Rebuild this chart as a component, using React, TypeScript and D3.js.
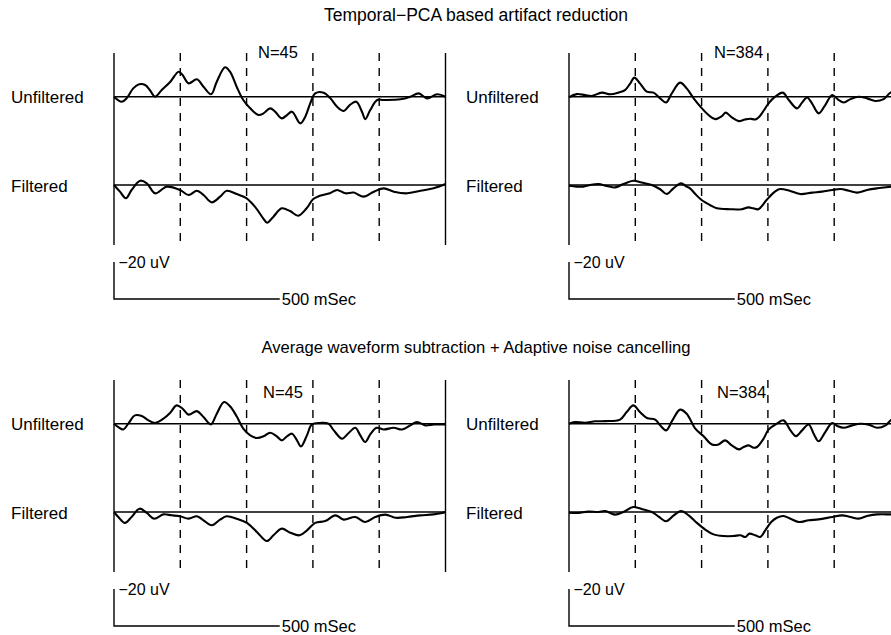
import React, { useEffect } from "react";
import * as d3 from "d3";

// time in ms (0..1000 across a panel), amplitude in uV (negative is drawn upward)
const sections = ["Temporal\u2212PCA based artifact reduction", "Average waveform subtraction + Adaptive noise cancelling"];
const groups = ["N=45", "N=384"];
const traceLabels = ["Unfiltered", "Filtered"];
const gridTimes = [200, 400, 600, 800];

const pca45Unf = [[0,0],[23,2.7],[38,0.9],[58,-4.5],[76,-6.7],[94,-6.3],[108,-3.6],[124,0],[144,-3.6],[170,-8.1],[195,-13.5],[207,-11.7],[225,-7.2],[250,-9.4],[270,-5.4],[293,-1.3],[310,-8.1],[335,-15.9],[350,-13.5],[370,-5.4],[390,1.8],[411,6.3],[436,9.9],[451,9.0],[471,6.3],[486,8.1],[506,11.7],[522,9.9],[537,8.1],[562,14.4],[577,10.8],[592,3.6],[607,-1.8],[632,-2.2],[653,0.9],[673,5.4],[693,7.7],[711,4.5],[731,2.7],[748,8.1],[758,12.1],[773,7.2],[794,1.8],[814,1.8],[864,1.4],[894,0],[919,-1.8],[944,0.9],[975,-1.3],[1000,0]];
const pca45Filt = [[0,0],[18,3.6],[36,7.2],[53,2.7],[79,-2.3],[99,-0.9],[124,4.5],[149,1.8],[159,0.9],[199,2.7],[225,5.4],[250,3.1],[270,5.4],[295,9.4],[320,6.3],[340,3.1],[370,4.9],[398,7.0],[425,11.7],[450,18.0],[462,20.4],[481,17.1],[506,12.6],[531,14.1],[556,16.6],[581,12.6],[601,7.6],[621,5.8],[651,4.5],[673,2.7],[698,4.5],[723,4.1],[753,6.3],[784,3.6],[814,1.8],[844,3.6],[884,4.5],[924,3.1],[964,1.8],[1000,-0.5]];
const pca384Unf = [[0,0.4],[23,-1.4],[48,-0.9],[68,-0.4],[99,-2.2],[124,-1.3],[149,-2.2],[169,-3.6],[185,-7.2],[197,-10.3],[214,-7.2],[235,-2.7],[255,-2.2],[275,0.9],[293,3.1],[310,-1.8],[335,-7.6],[355,-4.5],[376,0.9],[401,6.3],[421,9.9],[441,12.1],[461,10.5],[473,8.6],[491,11.2],[512,13.2],[531,12.3],[547,11.9],[562,12.3],[574,10.8],[587,7.6],[602,3.6],[622,0],[645,-2.2],[663,1.8],[688,6.3],[703,3.2],[718,0.4],[733,3.6],[753,9.0],[773,4.5],[794,-0.9],[811,1.4],[829,3.1],[849,1.3],[874,0],[899,0.9],[924,2.3],[949,1.3],[970,-2.2],[1000,-4.0]];
const pca384Filt = [[0,0.4],[23,0.9],[43,0.9],[64,0],[89,-0.5],[114,0.5],[139,1.3],[164,-0.5],[194,-2.3],[219,-1.3],[250,0],[275,2.3],[295,4.9],[315,1.8],[338,-0.9],[355,0.9],[365,1.8],[381,4.9],[400,8.1],[425,10.8],[446,12.6],[486,13.1],[521,13.1],[541,12.1],[556,12.6],[571,13.1],[596,8.1],[621,3.6],[636,2.2],[667,3.2],[698,4.9],[733,4.1],[763,3.6],[794,2.7],[819,2.2],[844,3.1],[869,4.1],[899,2.7],[930,1.8],[973,0.9],[1000,0.5]];

const anc45Unf = [[0,0],[13,1.8],[28,3.1],[43,0],[63,-4.5],[84,-4.1],[104,-1.8],[124,-0.4],[149,-2.7],[169,-5.8],[189,-9.9],[207,-8.1],[225,-4.9],[250,-6.8],[270,-3.6],[292,0.4],[310,-5.4],[332,-11.7],[350,-9.4],[370,-4.0],[390,2.7],[411,6.3],[431,7.7],[451,6.8],[471,4.9],[491,6.8],[506,9.0],[522,6.8],[537,5.4],[552,9.0],[564,12.3],[582,6.3],[597,0.4],[622,-0.4],[647,0],[663,3.6],[688,8.1],[708,5.0],[728,2.2],[743,6.3],[758,9.9],[773,5.8],[792,2.2],[814,3.1],[844,2.2],[869,3.1],[894,0.9],[914,-0.9],[939,0.9],[965,0.4],[1000,0.4]];
const anc45Filt = [[0,0],[13,2.7],[33,5.9],[53,2.7],[77,-1.8],[99,0.5],[121,3.6],[149,1.3],[174,1.8],[199,2.3],[225,3.6],[250,2.3],[270,4.5],[295,7.2],[320,4.1],[340,2.3],[370,3.6],[401,5.9],[431,10.8],[461,15.7],[481,12.6],[506,9.0],[532,11.2],[560,12.6],[582,9.9],[607,5.9],[637,4.9],[668,1.8],[693,4.1],[728,2.7],[758,5.4],[788,2.7],[819,1.4],[849,3.1],[884,2.7],[924,1.8],[964,1.3],[1000,0]];
const anc384Unf = [[0,0],[18,-0.9],[48,-0.5],[79,-1.3],[109,-1.4],[154,-2.2],[174,-6.3],[194,-9.9],[214,-6.3],[235,-3.1],[260,-2.2],[275,0.9],[293,3.6],[312,-1.8],[335,-7.6],[355,-5.4],[381,2.7],[406,6.8],[431,11.2],[451,11.2],[471,9.0],[491,11.7],[512,13.9],[527,12.6],[542,11.7],[557,13.0],[567,12.6],[587,8.1],[602,3.2],[627,0],[647,-1.8],[668,3.6],[685,6.7],[703,3.6],[723,0.4],[738,5.4],[753,9.5],[773,4.5],[794,-0.4],[811,1.4],[829,2.2],[854,0.9],[879,0],[904,0.5],[930,2.2],[955,0.9],[973,-2.2],[1000,-3.6]];
const anc384Filt = [[0,0.4],[28,0.5],[58,-0.2],[89,0],[109,-0.5],[139,1.4],[164,0],[194,-2.7],[225,-1.3],[250,0],[272,2.7],[293,5.0],[316,1.8],[338,-0.5],[361,1.8],[386,5.9],[411,9.5],[436,12.1],[466,13.0],[496,13.0],[517,12.6],[532,13.5],[544,11.7],[562,12.6],[577,13.5],[592,9.9],[610,5.4],[627,3.1],[647,2.2],[668,3.6],[693,5.4],[723,4.5],[753,4.0],[794,2.7],[824,1.8],[849,2.7],[874,3.6],[899,2.2],[930,1.3],[973,1.3],[1000,1.3]];

const traces = [
  [[pca45Unf, pca45Filt], [pca384Unf, pca384Filt]],
  [[anc45Unf, anc45Filt], [anc384Unf, anc384Filt]],
];

const FONT = "'Liberation Sans', Arial, Helvetica, sans-serif";
const rowOffset = [0, 327];
const panelLeft = [114, 569];
const panelWidth = 331.5;
const pxPerUv = 1.85;
const nLabelPos = [[[144, 58], [145, 58]], [[149, 398], [148, 398]]];
const titleSize = [17.5, 16.6];

const Panel = ({ row, col }) => {
  const dy = rowOffset[row];
  const x = d3.scaleLinear().domain([0, 1000]).range([panelLeft[col], panelLeft[col] + panelWidth]);
  const top = 53 + dy;
  const bottom = 245 + dy;
  const bases = [96.7 + dy, 185 + dy];
  const line = (base) => {
    const y = d3.scaleLinear().domain([-20, 20]).range([base - 20 * pxPerUv, base + 20 * pxPerUv]);
    return d3.line().x((d) => x(d[0])).y((d) => y(d[1])).curve(d3.curveCatmullRom.alpha(0.5));
  };
  const barY = d3.scaleLinear().domain([-20, 0]).range([299 + dy - 20 * pxPerUv, 299 + dy]);
  const [nx, ny] = nLabelPos[row][col];
  return (
    <g>
      <line x1={x(0)} x2={x(0)} y1={top} y2={bottom} stroke="#000" strokeWidth={1.4} />
      <line x1={x(1000)} x2={x(1000)} y1={top} y2={bottom} stroke="#000" strokeWidth={1.4} />
      {gridTimes.map((t) => (
        <line key={t} x1={x(t)} x2={x(t)} y1={top} y2={bottom} stroke="#000" strokeWidth={1.4} strokeDasharray="8,7" />
      ))}
      {bases.map((b, i) => (
        <g key={i}>
          <line x1={x(0)} x2={x(1000)} y1={b} y2={b} stroke="#000" strokeWidth={1.5} />
          <path d={line(b)(traces[row][col][i])} fill="none" stroke="#000" strokeWidth={2.1} strokeLinejoin="round" />
          <text x={panelLeft[col] - 103} y={b + 6.6} fontSize={17} fontFamily={FONT}>{traceLabels[i]}</text>
        </g>
      ))}
      <text x={panelLeft[col] + nx} y={ny} fontSize={16.5} fontFamily={FONT}>{groups[col]}</text>
      <path d={`M${x(0)},${barY(-20)}V${barY(0)}H${x(500)}`} fill="none" stroke="#000" strokeWidth={1.4} />
      <text x={x(0) + 4.5} y={barY(-20) + 6} fontSize={16} fontFamily={FONT}>{"\u221220 uV"}</text>
      <text x={x(500) + 2} y={barY(0) + 6} fontSize={16.5} fontFamily={FONT}>500 mSec</text>
    </g>
  );
};

export default function App() {
  useEffect(() => {
    document.body.style.margin = "0";
  }, []);
  return (
    <svg width={891} height={635} style={{ display: "block", background: "#fff" }}>
      <text x={476} y={21} textAnchor="middle" fontSize={titleSize[0]} fontFamily={FONT}>{sections[0]}</text>
      <text x={476} y={353} textAnchor="middle" fontSize={titleSize[1]} fontFamily={FONT}>{sections[1]}</text>
      {[0, 1].map((r) => [0, 1].map((c) => <Panel key={`${r}-${c}`} row={r} col={c} />))}
    </svg>
  );
}
